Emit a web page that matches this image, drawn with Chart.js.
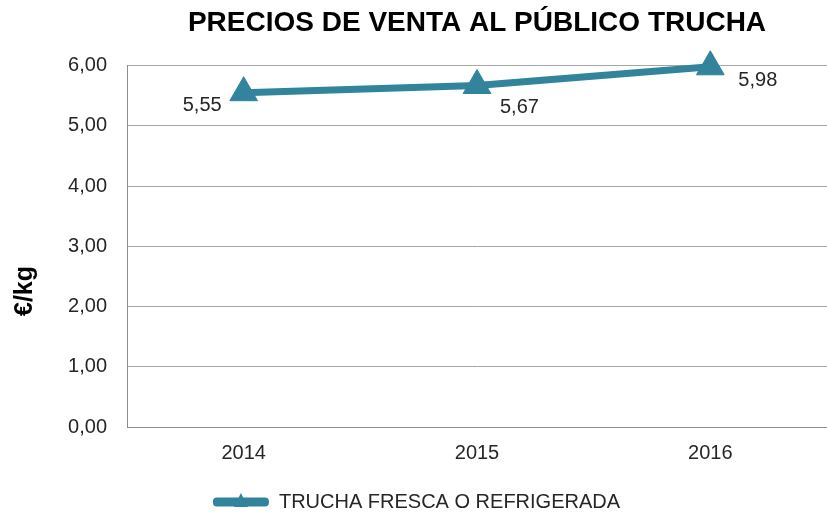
<!DOCTYPE html>
<html lang="es">
<head>
    <meta charset="UTF-8">
    <title>Precios de venta al público trucha</title>
    <script src="https://cdn.jsdelivr.net/npm/chart.js@4.4.1/dist/chart.umd.min.js"></script>
    <style>
        html, body {
            margin: 0;
            padding: 0;
            background: #ffffff;
            overflow: hidden;
        }
        .chart-box {
            position: relative;
            width: 827px;
            height: 522px;
        }
    </style>
</head>
<body>
    <div class="chart-box">
        <canvas id="trucha-chart"></canvas>
    </div>

    <script>
        // Data
        const years = ['2014', '2015', '2016'];
        const precios = [5.55, 5.67, 5.98];
        const seriesName = 'TRUCHA FRESCA O REFRIGERADA';
        const yTicks = [0, 1, 2, 3, 4, 5, 6];

        const teal = '#31849B';
        const fontFamily = '"Liberation Sans", Arial, sans-serif';
        const toComma = v => Number(v).toFixed(2).replace('.', ',');

        // where each value label sits relative to its point
        const labelOffsets = [
            { dx: -22, dy: 13, align: 'right' },
            { dx: 23, dy: 22, align: 'left' },
            { dx: 28, dy: 14, align: 'left' }
        ];

        const valueLabels = {
            id: 'valueLabels',
            afterDatasetsDraw(chart) {
                const ctx = chart.ctx;
                const meta = chart.getDatasetMeta(0);
                ctx.save();
                ctx.font = '20px ' + fontFamily;
                ctx.fillStyle = '#262626';
                ctx.textBaseline = 'middle';
                meta.data.forEach((pt, i) => {
                    const off = labelOffsets[i];
                    ctx.textAlign = off.align;
                    ctx.fillText(toComma(precios[i]), pt.x + off.dx, pt.y + off.dy);
                });
                ctx.restore();
            }
        };

        // y axis title sits lower than the axis centre in the original
        const yTitle = {
            id: 'yTitle',
            afterDraw(chart) {
                const ctx = chart.ctx;
                ctx.save();
                ctx.translate(25, 291);
                ctx.rotate(-Math.PI / 2);
                ctx.font = 'bold 25px ' + fontFamily;
                ctx.fillStyle = '#000000';
                ctx.textAlign = 'center';
                ctx.textBaseline = 'middle';
                ctx.fillText('€/kg', 0, 0);
                ctx.restore();
            }
        };

        // small triangle on the legend line
        const legendMarker = {
            id: 'legendMarker',
            afterDraw(chart) {
                const box = chart.legend.legendHitBoxes[0];
                if (!box) return;
                const ctx = chart.ctx;
                const cx = box.left + 28;
                const cy = box.top + box.height / 2;
                ctx.save();
                ctx.fillStyle = teal;
                ctx.beginPath();
                ctx.moveTo(cx, cy - 9);
                ctx.lineTo(cx + 7, cy + 5);
                ctx.lineTo(cx - 7, cy + 5);
                ctx.closePath();
                ctx.fill();
                ctx.restore();
            }
        };

        Chart.defaults.font.family = fontFamily;
        Chart.defaults.color = '#404040';

        new Chart(document.getElementById('trucha-chart'), {
            type: 'line',
            data: {
                labels: years,
                datasets: [{
                    label: seriesName,
                    data: precios,
                    borderColor: teal,
                    backgroundColor: teal,
                    borderWidth: 7,
                    tension: 0,
                    pointStyle: 'triangle',
                    pointRadius: 16,
                    pointHoverRadius: 16,
                    pointBackgroundColor: teal,
                    pointBorderColor: teal,
                    pointBorderWidth: 1,
                    clip: false
                }]
            },
            options: {
                responsive: true,
                maintainAspectRatio: false,
                animation: false,
                // plot runs past the right edge in the original
                layout: { autoPadding: false, padding: { left: 0, right: -6, top: 0, bottom: 0 } },
                plugins: {
                    title: {
                        display: true,
                        fullSize: false,
                        text: 'PRECIOS DE VENTA AL PÚBLICO TRUCHA',
                        color: '#000000',
                        font: { size: 28, weight: 'bold' },
                        padding: { top: 6, bottom: 26 }
                    },
                    legend: {
                        position: 'bottom',
                        labels: {
                            boxWidth: 56,
                            boxHeight: 9,
                            useBorderRadius: true,
                            borderRadius: 4,
                            padding: 10,
                            color: '#262626',
                            font: { size: 20 },
                            generateLabels(chart) {
                                return Chart.defaults.plugins.legend.labels.generateLabels(chart)
                                    .map(item => Object.assign(item, { lineWidth: 0 }));
                            }
                        }
                    },
                    tooltip: { enabled: false }
                },
                scales: {
                    x: {
                        offset: true,
                        grid: { display: false, drawTicks: false },
                        border: { color: '#8c8c8c', width: 1 },
                        ticks: { padding: 14, font: { size: 20 }, color: '#262626' },
                        afterFit(scale) {
                            scale.height = 55;
                            scale.paddingLeft = 0;
                            scale.paddingRight = 0;
                        }
                    },
                    y: {
                        min: 0,
                        max: 6,
                        afterBuildTicks(scale) {
                            scale.ticks = yTicks.map(v => ({ value: v }));
                        },
                        grid: { color: '#a6a6a6', drawTicks: false },
                        border: { color: '#8c8c8c', width: 1 },
                        ticks: {
                            padding: 20,
                            font: { size: 20 },
                            color: '#262626',
                            callback: v => toComma(v)
                        },
                        afterFit(scale) { scale.width = 127; }
                    }
                }
            },
            plugins: [valueLabels, yTitle, legendMarker]
        });
    </script>
</body>
</html>
